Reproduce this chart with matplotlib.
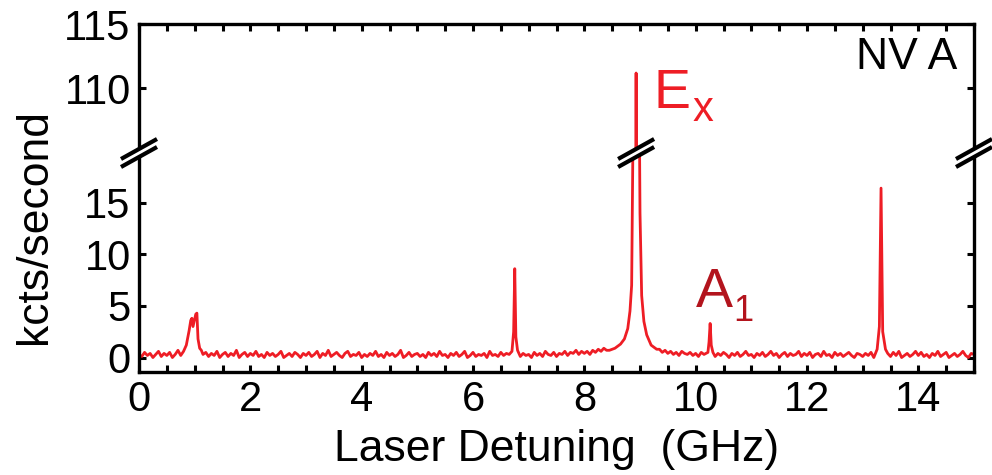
import numpy as np
import matplotlib.pyplot as plt
from matplotlib.lines import Line2D
from matplotlib.patches import Polygon
from matplotlib.transforms import IdentityTransform, blended_transform_factory

plt.rcParams['font.family'] = ['Liberation Sans', 'DejaVu Sans']

# baseline of the scan, one reading every 0.05 GHz from 0 to 15 GHz
base_step = 0.05
base_counts = [
    0.3, 0.1, 0.5, 0.2, 0.4, 0.0, 0.3, 0.6, 0.1, 0.4, 0.2, 0.5, 0.0, 0.3, 0.7, 0.2, 0.4, 0.6, 0.9, 1.1,
    1.0, 0.8, 0.6, 0.3, 0.5, 0.1, 0.4, 0.2, 0.6, 0.0, 0.3, 0.5, 0.1, 0.4, 0.2, 0.7, 0.0, 0.3, 0.5, 0.1,
    0.4, 0.2, 0.6, 0.1, 0.3, 0.0, 0.5, 0.2, 0.4, 0.1, 0.3, 0.6, 0.0, 0.2, 0.4, 0.1, 0.5, 0.3, 0.0, 0.4,
    0.2, 0.5, 0.1, 0.3, 0.6, 0.0, 0.4, 0.2, 0.7, 0.1, 0.3, 0.5, 0.2, 0.0, 0.4, 0.6, 0.1, 0.3, 0.2, 0.5,
    0.0, 0.3, 0.1, 0.4, 0.2, 0.6, 0.1, 0.3, 0.0, 0.5, 0.2, 0.4, 0.1, 0.3, 0.7, 0.0, 0.2, 0.5, 0.1, 0.3,
    0.4, 0.1, 0.3, 0.0, 0.5, 0.2, 0.4, 0.1, 0.6, 0.2, 0.3, 0.0, 0.4, 0.2, 0.5, 0.1, 0.3, 0.6, 0.0, 0.2,
    0.5, 0.1, 0.3, 0.2, 0.4, 0.0, 0.6, 0.2, 0.3, 0.1, 0.5, 0.2, 0.4, 0.3, 0.8, 0.5, 0.3, 0.1, 0.4, 0.2,
    0.3, 0.0, 0.5, 0.2, 0.4, 0.1, 0.6, 0.3, 0.2, 0.5, 0.1, 0.4, 0.3, 0.6, 0.2, 0.5, 0.4, 0.7, 0.3, 0.6,
    0.4, 0.6, 0.3, 0.7, 0.5, 0.8, 0.6, 0.9, 0.7, 1.0, 0.5, 0.5, 0.5, 0.5, 0.5, 0.5, 0.5, 0.5, 0.5, 0.5,
    0.5, 0.5, 0.5, 0.5, 0.5, 0.5, 0.7, 0.8, 0.5, 0.7, 0.4, 0.6, 0.3, 0.5, 0.2, 0.6, 0.4, 0.3, 0.5, 0.2,
    0.4, 0.1, 0.5, 0.3, 0.2, 0.6, 0.3, 0.1, 0.4, 0.2, 0.5, 0.3, 0.0, 0.4, 0.2, 0.5, 0.1, 0.3, 0.6, 0.2,
    0.3, 0.0, 0.4, 0.2, 0.5, 0.1, 0.3, 0.6, 0.2, 0.4, 0.0, 0.3, 0.5, 0.1, 0.4, 0.2, 0.3, 0.6, 0.1, 0.4,
    0.2, 0.5, 0.0, 0.3, 0.4, 0.1, 0.6, 0.2, 0.3, 0.0, 0.5, 0.2, 0.4, 0.1, 0.3, 0.5, 0.2, 0.0, 0.4, 0.3,
    0.1, 0.4, 0.2, 0.5, 0.0, 0.3, 0.5, 0.5, 0.5, 0.4, 0.1, 0.5, 0.2, 0.6, 0.0, 0.2, 0.4, 0.1, 0.3, 0.6,
    0.2, 0.5, 0.1, 0.3, 0.0, 0.4, 0.2, 0.6, 0.1, 0.3, 0.5, 0.0, 0.2, 0.4, 0.1, 0.3, 0.6, 0.2, 0.0, 0.4,
    0.3,
]

peak_ghz = [
    0.80, 0.85, 0.90, 0.93, 0.95, 0.97, 0.99, 1.02, 1.04, 1.06, 1.09, 1.12,
    6.70, 6.73, 6.75, 6.77, 6.80,
    8.45, 8.55, 8.65, 8.72, 8.78, 8.82, 8.85, 8.88, 8.93, 8.98, 9.00, 9.03, 9.07, 9.12, 9.20, 9.30,
    10.22, 10.24, 10.26, 10.28, 10.31,
    13.26, 13.30, 13.33, 13.36, 13.41,
]
peak_counts = [
    0.6, 1.2, 2.6, 3.6, 3.8, 3.0, 3.5, 4.2, 4.3, 1.8, 0.9, 0.7,
    0.6, 2.5, 8.6, 2.0, 0.7,
    0.7, 0.9, 1.3, 1.8, 2.8, 4.5, 7.0, 25.0, 111.2, 30.0, 14.0, 6.0, 3.5, 2.2, 1.2, 0.8,
    0.5, 1.5, 3.3, 1.2, 0.5,
    0.8, 3.0, 16.4, 2.5, 0.8,
]
peak_windows = [(0.78, 1.14), (6.68, 6.82), (8.43, 9.32), (10.20, 10.33), (13.24, 13.43)]

ex_label = 'E'
a1_label = 'A'
nv_label = 'NV A'

line_red = '#ee1d25'
a1_red = '#b3141d'

base_ghz = np.arange(len(base_counts)) * base_step
base_counts = np.array(base_counts)
keep = np.ones(len(base_ghz), dtype=bool)
for lo, hi in peak_windows:
    keep &= ~((base_ghz > lo) & (base_ghz < hi))
ghz = np.concatenate([base_ghz[keep], peak_ghz])
counts = np.concatenate([base_counts[keep], peak_counts])
order = np.argsort(ghz)
ghz, counts = ghz[order], counts[order]

W, H = 992, 475
fig = plt.figure(figsize=(W / 100, H / 100), dpi=100)
left, right = 139 / W, 974 / W
ax_top = fig.add_axes([left, 1 - 153 / H, right - left, (153 - 24) / H])
ax_low = fig.add_axes([left, 1 - 372 / H, right - left, (372 - 153) / H])

for ax in (ax_top, ax_low):
    ax.plot(ghz, counts, color=line_red, lw=2.0)
    ax.set_xlim(0, 15)
    ax.set_xticks(np.arange(0, 15, 2))
    ax.set_xticks(np.arange(0, 15.01, 0.5), minor=True)
    for s in ax.spines.values():
        s.set_linewidth(2.4)
    ax.tick_params(which='both', direction='in', length=5, width=2.2,
                   labelsize=30, left=True, right=True)

ax_top.set_ylim(105, 115)
ax_top.set_yticks([110, 115])
ax_top.spines['bottom'].set_visible(False)
ax_top.tick_params(axis='x', which='both', top=True, bottom=False, labelbottom=False)
ax_top.tick_params(axis='y', pad=6)

ax_low.set_ylim(-1.4, 19.8)
ax_low.set_yticks([0, 5, 10, 15])
ax_low.spines['top'].set_visible(False)
ax_low.tick_params(axis='x', which='both', top=False, bottom=True, pad=6)
ax_low.tick_params(axis='y', pad=6)
ax_low.set_xlabel('Laser Detuning  (GHz)', fontsize=32, labelpad=6)
fig.text(0.035, 1 - 227 / H, 'kcts/second', rotation=90, fontsize=32,
         ha='center', va='center')

# peak labels
fig.text(653 / W, 1 - 108 / H, ex_label, color=line_red, fontsize=40, va='baseline')
fig.text(693 / W, 1 - 121 / H, 'x', color=line_red, fontsize=30, va='baseline')
fig.text(696 / W, 1 - 307 / H, a1_label, color=a1_red, fontsize=40, va='baseline')
fig.text(733 / W, 1 - 321 / H, '1', color=a1_red, fontsize=26, va='baseline')
ax_top.text(0.98, 0.9, nv_label, transform=ax_top.transAxes, fontsize=32,
            ha='right', va='top')


def break_mark(xd, yd):
    dx, dy, gap = 18, 10, 4
    pts = [(xd - dx, yd - dy - gap), (xd + dx, yd + dy - gap),
           (xd + dx, yd + dy + gap), (xd - dx, yd - dy + gap)]
    fig.add_artist(Polygon(pts, closed=True, fc='white', ec='none',
                           transform=IdentityTransform(), zorder=10))
    for g in (-gap, gap):
        fig.add_artist(Line2D([xd - dx, xd + dx], [yd - dy + g, yd + dy + g],
                              color='black', lw=3, transform=IdentityTransform(),
                              zorder=11, solid_capstyle='butt'))


ex_pos = ghz[np.argmax(counts)]
edge = blended_transform_factory(ax_low.transData, ax_low.transAxes)
for xy in [ax_low.transAxes.transform((0, 1)), ax_low.transAxes.transform((1, 1)),
           edge.transform((ex_pos, 1))]:
    break_mark(xy[0], xy[1])

fig.savefig('out.png', dpi=100)
